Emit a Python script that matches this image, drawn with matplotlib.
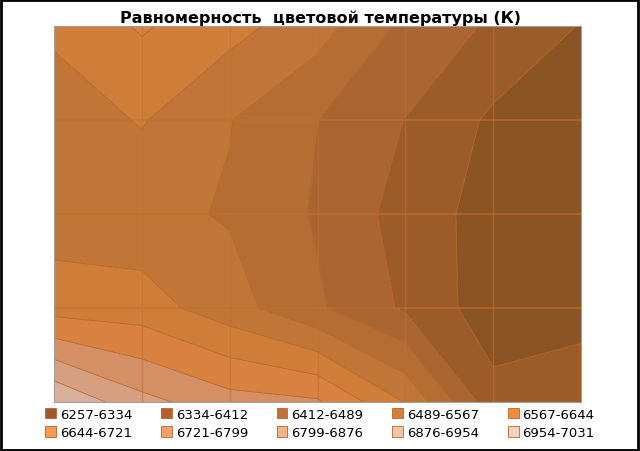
import numpy as np
import matplotlib
matplotlib.use('Agg')
import matplotlib.pyplot as plt
from matplotlib.patches import Patch, Rectangle

# grid values (rows top->bottom, columns left->right)
row0 = [6660, 6730, 6670, 6600, 6470, 6400, 6330]
row1 = [6600, 6650, 6570, 6490, 6410, 6320, 6280]
row2 = [6600, 6590, 6560, 6480, 6380, 6300, 6280]
row3 = [6690, 6680, 6600, 6500, 6400, 6290, 6300]
row4 = [7031, 6900, 6830, 6810, 6640, 6360, 6390]

levels = [6257, 6334, 6412, 6489, 6567, 6644, 6721, 6799, 6876, 6954, 7031]
labels = ['6257-6334', '6334-6412', '6412-6489', '6489-6567', '6567-6644',
          '6644-6721', '6721-6799', '6799-6876', '6876-6954', '6954-7031']
colors = ['#8B5425', '#9C5C29', '#AB6530', '#B56D33', '#C17536',
          '#CF7E3A', '#D88140', '#D48F64', '#D6A080', '#D8B09A']
legend_colors = ['#A0582A', '#B3622F', '#C47034', '#D87E37', '#EE8C3C',
                 '#F59A4E', '#F4A06A', '#F5B48C', '#F5C4A8', '#F7D2C0']

Z = np.array([row0, row1, row2, row3, row4], dtype=float)
ny, nx = Z.shape
x = np.arange(nx)
y = np.arange(ny)[::-1]

fig = plt.figure(figsize=(6.4, 4.52), dpi=100)
ax = fig.add_axes([54/640, 1 - 403/452, 527/640, 376/452])
ax.contourf(x, y, Z, levels=levels, colors=colors)
ax.contour(x, y, Z, levels=levels, colors='#B5652C', linewidths=0.6)
ax.set_xlim(0, nx - 1)
ax.set_ylim(0, ny - 1)
for xi in x[1:-1]:
    ax.axvline(xi, color='#C07030', lw=1, alpha=0.6)
for yi in y[1:-1]:
    ax.axhline(yi, color='#C07030', lw=1.5, alpha=0.6)
ax.set_xticks([]); ax.set_yticks([])
for s in ax.spines.values():
    s.set_color('#A0A0A0')

fig.text(0.5, 1 - 18/452, 'Равномерность  цветовой температуры (К)', ha='center', va='center',
         fontsize=11.5, fontweight='bold', family='DejaVu Sans')

handles = [Patch(facecolor=c, edgecolor='#B5652C', lw=0.6) for c in legend_colors]
order = [0, 5, 1, 6, 2, 7, 3, 8, 4, 9]
fig.legend([handles[i] for i in order], [labels[i] for i in order], ncol=5,
           loc='lower center', bbox_to_anchor=(0.5, 0.0), frameon=False, fontsize=9.5,
           handlelength=0.8, handleheight=0.8, handletextpad=0.3, columnspacing=2.2,
           labelspacing=0.4)

fig.add_artist(Rectangle((0.002, 0.003), 0.995, 0.994, transform=fig.transFigure,
                         fill=False, edgecolor='black', lw=2))
fig.savefig('out.png', dpi=100)
